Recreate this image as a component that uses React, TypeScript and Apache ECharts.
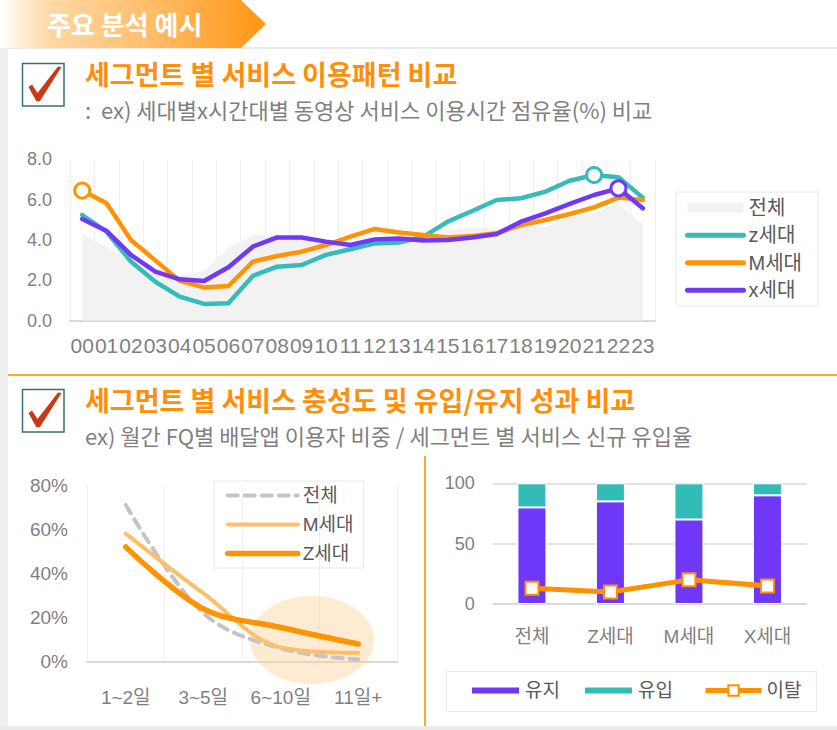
import React, { useEffect, useRef } from "react";
import * as echarts from "echarts";

const hourLabels = ["00","01","02","03","04","05","06","07","08","09","10","11","12","13","14","15","16","17","18","19","20","21","22","23"];
const shareTotal = [4.3, 3.67, 2.93, 2.35, 2.22, 2.48, 3.59, 4.25, 4.25, 4.13, 4.0, 3.92, 3.8, 4.1, 4.35, 4.5, 4.63, 4.58, 4.7, 4.63, 5.08, 5.32, 5.82, 4.74];
const shareZ = [5.24, 4.41, 2.93, 1.93, 1.19, 0.83, 0.86, 2.22, 2.68, 2.76, 3.26, 3.54, 3.83, 3.87, 4.17, 4.91, 5.44, 5.98, 6.07, 6.4, 6.94, 7.22, 7.11, 6.1];
const shareM = [6.45, 5.82, 4.0, 2.99, 1.98, 1.65, 1.72, 2.93, 3.21, 3.42, 3.75, 4.17, 4.55, 4.37, 4.25, 4.13, 4.2, 4.33, 4.74, 4.99, 5.29, 5.62, 6.1, 5.98];
const shareX = [5.04, 4.45, 3.26, 2.43, 2.05, 1.97, 2.65, 3.67, 4.13, 4.12, 3.92, 3.75, 4.03, 4.08, 3.97, 4.0, 4.12, 4.3, 4.91, 5.32, 5.79, 6.23, 6.56, 5.57];
const peakZ = 21;
const peakM = 0;
const peakX = 22;

const fqLabels = ["1~2일", "3~5일", "6~10일", "11일+"];
const fqTotal = [71, 22, 6, 1];
const fqM = [58, 31, 6.5, 4];
const fqZ = [52, 24, 15.5, 8];

const segLabels = ["전체", "Z세대", "M세대", "X세대"];
const retainValues = [80, 85, 70, 90];
const inflowValues = [20, 15, 30, 10];
const churnValues = [13, 10, 20, 15];

const FONT = "'Liberation Sans', 'Noto Sans CJK KR', sans-serif";
const KFONT = "'Noto Sans CJK KR', 'Liberation Sans', sans-serif";

const TEAL = "#35BCB8";
const ORANGE = "#FF9205";
const PURPLE = "#7139F7";
const GREY_AREA = "#F2F2F2";
const LABEL = "#7f7f7f";
const CLEAR = { color: "rgba(0,0,0,0)", borderColor: "rgba(0,0,0,0)", borderWidth: 0 };

function withMarker(values: number[], idx: number, color: string) {
  return values.map((v, i) =>
    i === idx
      ? { value: v, symbol: "circle", symbolSize: 15, itemStyle: { color: "#fff", borderColor: color, borderWidth: 3 } }
      : v
  );
}

function checkbox(y0: number) {
  return [
    { type: "rect", shape: { x: 22.5, y: y0, width: 41.5, height: 42.5 }, style: { fill: "#fff", stroke: "#3A6F70", lineWidth: 1.5 } },
    {
      type: "polygon",
      shape: {
        points: [
          [28.5, y0 + 23.5], [32, y0 + 21], [37.5, y0 + 29.5], [58, y0 + 3], [61.5, y0 + 3.5], [40, y0 + 37.5], [36.5, y0 + 38],
        ],
      },
      style: { fill: "#C93A12" },
    },
  ];
}

function text(x: number, y: number, t: string, font: string, fill: string) {
  return { type: "text", x, y, style: { text: t, font, fill, verticalAlign: "middle" } };
}

export default function App() {
  const ref = useRef<HTMLDivElement>(null);
  useEffect(() => {
    document.body.style.margin = "0";
    const chart = echarts.init(ref.current!, undefined, { renderer: "svg" });
    const graphic: any[] = [
      { type: "rect", shape: { x: 0, y: 47, width: 837, height: 2 }, style: { fill: "#ececec" } },
      { type: "rect", shape: { x: 0, y: 48, width: 8, height: 682 }, style: { fill: "#eeeeee" } },
      { type: "rect", shape: { x: 0, y: 726, width: 837, height: 4 }, style: { fill: "#ebebeb" } },
      {
        type: "polygon",
        shape: { points: [[0, 0], [241, 0], [266, 24], [241, 48], [0, 48]] },
        style: {
          fill: new echarts.graphic.LinearGradient(0, 0, 1, 0, [
            { offset: 0, color: "#FFFFFF" },
            { offset: 0.18, color: "#FFD9A6" },
            { offset: 0.55, color: "#FFBF6C" },
            { offset: 1, color: "#FF9412" },
          ]),
        },
      },
      text(47, 23, "주요 분석 예시", `bold 26px ${KFONT}`, "#ffffff"),
      ...checkbox(63.5),
      text(85, 73, "세그먼트 별 서비스 이용패턴 비교", `bold 27px ${KFONT}`, "#FF8F0A"),
      text(85, 109, ":  ex) 세대별x시간대별 동영상 서비스 이용시간 점유율(%) 비교", `22px ${KFONT}`, "#7f7f7f"),
      { type: "line", shape: { x1: 8, y1: 375, x2: 837, y2: 375 }, style: { stroke: "#FFA733", lineWidth: 2 } },
      ...checkbox(389.5),
      text(85, 399, "세그먼트 별 서비스 충성도 및 유입/유지 성과 비교", `bold 27px ${KFONT}`, "#FF8F0A"),
      text(85, 435, "ex) 월간 FQ별 배달앱 이용자 비중 / 세그먼트 별 서비스 신규 유입율", `22px ${KFONT}`, "#7f7f7f"),
      { type: "line", shape: { x1: 425, y1: 456, x2: 425, y2: 726 }, style: { stroke: "#FFA733", lineWidth: 2 } },
      { type: "ellipse", z: 1, shape: { cx: 312, cy: 640, rx: 62, ry: 44 }, style: { fill: "rgba(252,206,140,0.4)" } },
      { type: "rect", shape: { x: 446.5, y: 671.5, width: 370, height: 40 }, style: { fill: "none", stroke: "#ebebeb", lineWidth: 1 } },
    ];

    const option: any = {
      animation: false,
      textStyle: { fontFamily: FONT },
      graphic,
      grid: [
        { left: 70, top: 159.3, width: 585, height: 161.4 },
        { left: 87, top: 485, width: 310, height: 176.7 },
        { left: 492.7, top: 483.3, width: 314, height: 120.7 },
      ],
      xAxis: [
        {
          gridIndex: 0, type: "category", data: hourLabels, boundaryGap: true,
          axisTick: { show: false },
          axisLine: { lineStyle: { color: "#d9d9d9", width: 2 } },
          axisLabel: { interval: 0, color: LABEL, fontSize: 21, margin: 14, fontFamily: FONT },
          splitLine: { show: true, interval: 0, lineStyle: { color: "#efefef", width: 1 } },
        },
        {
          gridIndex: 1, type: "category", data: fqLabels, boundaryGap: true,
          axisTick: { show: false },
          axisLine: { lineStyle: { color: "#d9d9d9", width: 2 } },
          axisLabel: { interval: 0, color: LABEL, fontSize: 19, margin: 26, fontFamily: FONT },
          splitLine: { show: true, interval: 0, lineStyle: { color: "#efefef", width: 1 } },
        },
        {
          gridIndex: 2, type: "category", data: segLabels, boundaryGap: true,
          axisTick: { show: false },
          axisLine: { lineStyle: { color: "#d9d9d9", width: 1.5 } },
          axisLabel: { interval: 0, color: LABEL, fontSize: 19, margin: 23, fontFamily: FONT },
          splitLine: { show: false },
        },
      ],
      yAxis: [
        {
          gridIndex: 0, type: "value", min: 0, max: 8, interval: 2,
          axisLabel: { formatter: (v: number) => v.toFixed(1), color: LABEL, fontSize: 18, margin: 18 },
          splitLine: { show: false }, axisLine: { show: false }, axisTick: { show: false },
        },
        {
          gridIndex: 1, type: "value", min: 0, max: 80, interval: 20,
          axisLabel: { formatter: "{value}%", color: LABEL, fontSize: 19, margin: 19 },
          splitLine: { show: false }, axisLine: { show: false }, axisTick: { show: false },
        },
        {
          gridIndex: 2, type: "value", min: 0, max: 100, interval: 50,
          axisLabel: { color: LABEL, fontSize: 18, margin: 18 },
          splitLine: { show: true, lineStyle: { color: "#d9d9d9", width: 1.5 } },
          axisLine: { show: false }, axisTick: { show: false },
        },
      ],
      legend: [
        {
          orient: "vertical", left: 676, top: 192, padding: [5, 16, 5, 9], itemGap: 6,
          itemWidth: 56, itemHeight: 10, borderColor: "#e8e8e8", borderWidth: 1,
          textStyle: { fontSize: 20, color: "#595959", fontFamily: FONT, lineHeight: 21.5 },
          lineStyle: { width: 5, cap: "round" },
          itemStyle: CLEAR,
          selectedMode: false,
          data: [
            { name: "전체", icon: "rect", itemStyle: { color: GREY_AREA, borderWidth: 0 } },
            "z세대", "M세대", "x세대",
          ],
        },
        {
          orient: "vertical", left: 214, top: 481, padding: [4, 10, 4, 11], itemGap: 8,
          itemWidth: 70, itemHeight: 10, borderColor: "#e8e8e8", borderWidth: 1,
          textStyle: { fontSize: 19, color: "#595959", fontFamily: FONT, lineHeight: 21 },
          itemStyle: CLEAR,
          selectedMode: false,
          formatter: (n: string) => n.trim(),
          data: [
            { name: "전체 ", lineStyle: { width: 4, type: [10, 7], cap: "round" } },
            { name: "M세대 ", lineStyle: { width: 4, cap: "round" } },
            { name: "Z세대", lineStyle: { width: 5.5, cap: "round" } },
          ],
        },
        {
          orient: "horizontal", left: 470, top: 680, padding: 0, itemGap: 23,
          itemWidth: 49, itemHeight: 8,
          textStyle: { fontSize: 19, color: "#595959", fontFamily: FONT, lineHeight: 21 },
          selectedMode: false,
          data: [{ name: "유지", icon: "rect" }, { name: "유입", icon: "rect" }],
        },
        {
          orient: "horizontal", left: 703, top: 680, padding: 0,
          itemWidth: 56, itemHeight: 13,
          textStyle: { fontSize: 19, color: "#595959", fontFamily: FONT, lineHeight: 21 },
          selectedMode: false,
          lineStyle: { width: 5 },
          data: ["이탈"],
        },
      ],
      series: [
        {
          name: "전체", type: "line", xAxisIndex: 0, yAxisIndex: 0, data: shareTotal,
          symbol: "none", lineStyle: { width: 0 }, itemStyle: { color: GREY_AREA },
          areaStyle: { color: GREY_AREA, opacity: 1 }, z: 1,
        },
        {
          name: "z세대", type: "line", xAxisIndex: 0, yAxisIndex: 0, data: withMarker(shareZ, peakZ, TEAL),
          symbol: "none", showSymbol: true, itemStyle: { color: TEAL },
          lineStyle: { width: 4.5, color: TEAL, join: "round", cap: "round" },
        },
        {
          name: "M세대", type: "line", xAxisIndex: 0, yAxisIndex: 0, data: withMarker(shareM, peakM, ORANGE),
          symbol: "none", showSymbol: true, itemStyle: { color: ORANGE },
          lineStyle: { width: 4.5, color: ORANGE, join: "round", cap: "round" },
        },
        {
          name: "x세대", type: "line", xAxisIndex: 0, yAxisIndex: 0, data: withMarker(shareX, peakX, PURPLE),
          symbol: "none", showSymbol: true, itemStyle: { color: PURPLE },
          lineStyle: { width: 4.5, color: PURPLE, join: "round", cap: "round" },
        },
        {
          name: "전체 ", type: "line", xAxisIndex: 1, yAxisIndex: 1, data: fqTotal, smooth: 0.35,
          symbol: "none", itemStyle: { color: "#C4C4C4" },
          lineStyle: { width: 4, color: "#C4C4C4", type: [10, 7], cap: "round" },
        },
        {
          name: "M세대 ", type: "line", xAxisIndex: 1, yAxisIndex: 1, data: fqM, smooth: 0.35,
          symbol: "none", itemStyle: { color: "#FFBE6A" },
          lineStyle: { width: 4, color: "#FFBE6A", cap: "round" },
        },
        {
          name: "Z세대", type: "line", xAxisIndex: 1, yAxisIndex: 1, data: fqZ, smooth: 0.35,
          symbol: "none", itemStyle: { color: "#FF9300" },
          lineStyle: { width: 5.5, color: "#FF9300", cap: "round" },
        },
        {
          name: "유지", type: "bar", xAxisIndex: 2, yAxisIndex: 2, stack: "seg", data: retainValues,
          barWidth: 29, itemStyle: { color: "#6F38F9", borderColor: "#fff", borderWidth: 1 },
        },
        {
          name: "유입", type: "bar", xAxisIndex: 2, yAxisIndex: 2, stack: "seg", data: inflowValues,
          barWidth: 29, itemStyle: { color: "#33BBB7", borderColor: "#fff", borderWidth: 1 },
        },
        {
          name: "이탈", type: "line", xAxisIndex: 2, yAxisIndex: 2, data: churnValues, z: 5,
          symbol: "rect", symbolSize: 13,
          itemStyle: { color: "#fff", borderColor: "#FF9000", borderWidth: 2 },
          lineStyle: { width: 5, color: "#FF9000" },
        },
      ],
    };
    chart.setOption(option);
    return () => chart.dispose();
  }, []);
  return <div ref={ref} style={{ width: 837, height: 730 }} />;
}
